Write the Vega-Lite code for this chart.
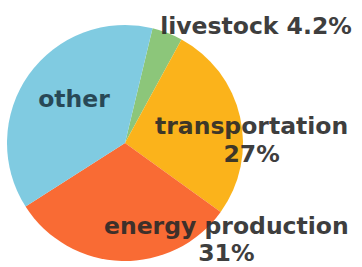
{
  "$schema": "https://vega.github.io/schema/vega-lite/v6.json",
  "width": 236,
  "height": 236,
  "autosize": {"type": "none"},
  "padding": {"left": 7, "top": 25, "right": 119, "bottom": 6},
  "background": "white",
  "config": {"view": {"stroke": null}},
  "data": {
    "values": [
      {"category": "livestock", "value": 4.2, "label": "livestock 4.2%", "order": 1},
      {"category": "transportation", "value": 27, "label": "transportation\n27%", "order": 2},
      {"category": "energy production", "value": 31, "label": "energy production\n31%", "order": 3},
      {"category": "other", "value": 37.8, "label": "other", "order": 4}
    ]
  },
  "transform": [
    {"stack": "value", "groupby": [], "sort": [{"field": "order", "order": "ascending"}], "as": ["v0", "v1"]}
  ],
  "layer": [
    {
      "mark": {"type": "arc", "outerRadius": 118},
      "encoding": {
        "theta": {"field": "v0", "type": "quantitative", "stack": null, "scale": {"domain": [0, 100], "range": [0.2356, 6.5188]}},
        "theta2": {"field": "v1"},
        "color": {
          "field": "category",
          "type": "nominal",
          "scale": {
            "domain": ["livestock", "transportation", "energy production", "other"],
            "range": ["#8cc67a", "#fbb31b", "#f96b34", "#80cbe1"]
          },
          "legend": null
        }
      }
    },
    {
      "transform": [{"filter": "datum.category === 'livestock'"}],
      "mark": {"type": "text", "radius": 112, "dx": 9, "dy": 0, "align": "left", "baseline": "alphabetic", "font": "DejaVu Sans", "fontWeight": "bold", "fontSize": 23.5, "fill": "#2a2a2a", "opacity": 0.9},
      "encoding": {
        "theta": {"field": "v0", "type": "quantitative", "stack": null},
        "text": {"field": "label"}
      }
    },
    {
      "transform": [{"filter": "datum.category === 'transportation'"}],
      "mark": {"type": "text", "radius": 20, "dx": 117, "dy": 9, "align": "center", "baseline": "alphabetic", "lineBreak": "\n", "lineHeight": 28, "font": "DejaVu Sans", "fontWeight": "bold", "fontSize": 23.5, "fill": "#2a2a2a", "opacity": 0.9},
      "encoding": {
        "theta": {"field": "v0", "type": "quantitative", "stack": null},
        "text": {"field": "label"}
      }
    },
    {
      "transform": [{"filter": "datum.category === 'energy production'"}],
      "mark": {"type": "text", "radius": 125, "dx": 0, "dy": 18, "align": "center", "baseline": "alphabetic", "lineBreak": "\n", "lineHeight": 26.5, "font": "DejaVu Sans", "fontWeight": "bold", "fontSize": 23.5, "fill": "#2a2a2a", "opacity": 0.9},
      "encoding": {
        "theta": {"field": "v0", "type": "quantitative", "stack": null},
        "text": {"field": "label"}
      }
    },
    {
      "transform": [{"filter": "datum.category === 'other'"}],
      "mark": {"type": "text", "radius": 0, "dx": -51, "dy": -36, "align": "center", "baseline": "alphabetic", "font": "DejaVu Sans", "fontWeight": "bold", "fontSize": 23.5, "fill": "#1f3a48", "opacity": 0.9},
      "encoding": {
        "theta": {"field": "v0", "type": "quantitative", "stack": null},
        "text": {"field": "label"}
      }
    }
  ]
}
